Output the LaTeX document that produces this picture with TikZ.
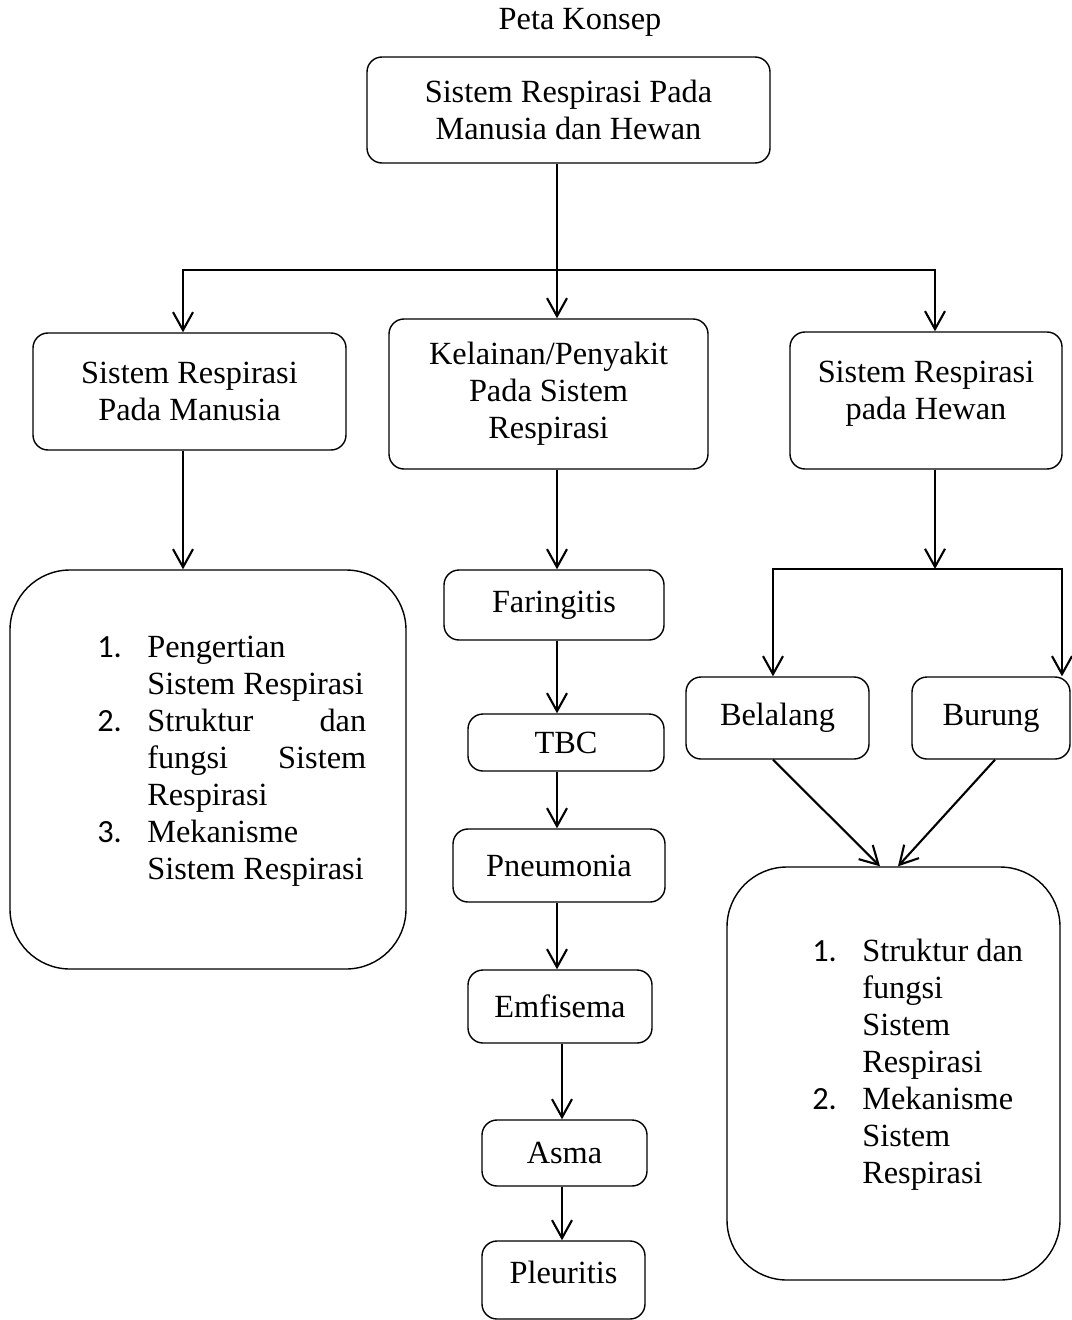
\documentclass[tikz,border=0pt]{standalone}
\usepackage{fontspec}
\setmainfont{Liberation Serif}
\newfontfamily\angka{Carlito}
\usetikzlibrary{arrows.meta}
\newlength{\px}\setlength{\px}{0.025cm}
\newcommand{\butir}[1]{\makebox[50\px][l]{\angka #1}}
\newcommand{\sisip}{\hspace*{50\px}}
\begin{document}
\begin{tikzpicture}[x=0.025cm,y=-0.025cm,
  every node/.style={font=\fontsize{23}{26.3}\selectfont},
  kotak/.style 2 args={draw, rounded corners=15\px, line width=1pt, align=center, inner sep=0pt, minimum width=#1\px, minimum height=#2\px},
  wadah/.style 2 args={draw, rounded corners=60\px, line width=1pt, inner sep=0pt, minimum width=#1\px, minimum height=#2\px},
  panah/.style={line width=1.5pt, -{Straight Barb[length=0.45cm,width=0.5cm]}},
  garis/.style={line width=1.5pt, line cap=rect}]
	\useasboundingbox (0,0) rectangle (1071,1320);
	% judul dan kotak utama
	\node (judul) at (580,22) {Peta Konsep};
	\node[kotak={403}{106}] (utama) at (568.5,110) {Sistem Respirasi Pada\\ Manusia dan Hewan};
	% tingkat kedua
	\node[kotak={313}{117}] (manusia) at (189.5,391.5) {Sistem Respirasi\\ Pada Manusia};
	\node[kotak={319}{150}] (kelainan) at (548.5,394) {Kelainan/Penyakit\\ Pada Sistem\\ Respirasi};
	\node[kotak={272}{137}, text depth=21\px] (hewan) at (926,400.5) {Sistem Respirasi\\ pada Hewan};
	% materi manusia
	\node[wadah={396}{399}] (materiA) at (208,769.5) {};
	\node[align=left, anchor=west, inner sep=0pt] (isiA) at (97,761) {%
		\butir{1.}Pengertian\\
		\sisip Sistem Respirasi\\
		\butir{2.}\hbox to 219\px{Struktur\hfill dan}\\
		\sisip\hbox to 219\px{fungsi\hfill Sistem}\\
		\sisip Respirasi\\
		\butir{3.}Mekanisme\\
		\sisip Sistem Respirasi};
	% penyakit
	\node[kotak={220}{70}] (faringitis) at (554,605) {Faringitis};
	\node[kotak={196}{57}] (tbc) at (566,742.5) {TBC};
	\node[kotak={212}{73}] (pneumonia) at (559,865.5) {Pneumonia};
	\node[kotak={184}{73}] (emfisema) at (560,1006.5) {Emfisema};
	\node[kotak={165}{66}] (asma) at (564.5,1153) {Asma};
	\node[kotak={163}{78}, text depth=16\px] (pleuritis) at (563.5,1280) {Pleuritis};
	% hewan
	\node[kotak={183}{82}] (belalang) at (777.5,718) {Belalang};
	\node[kotak={158}{82}] (burung) at (991,718) {Burung};
	\node[wadah={333}{413}] (materiB) at (893.5,1073.5) {};
	\node[align=left, anchor=west, inner sep=0pt] (isiB) at (812,1065) {%
		\butir{1.}Struktur dan\\
		\sisip fungsi\\
		\sisip Sistem\\
		\sisip Respirasi\\
		\butir{2.}Mekanisme\\
		\sisip Sistem\\
		\sisip Respirasi};
	% percabangan atas
	\coordinate (cabang) at (557,270);
	\coordinate (kiri) at (183,270);
	\coordinate (kanan) at (935,270);
	\draw[panah] (utama.south -| cabang) -- (kelainan.north -| cabang);
	\draw[garis] (kiri) -- (kanan);
	\draw[panah] (kiri) -- (manusia.north -| kiri);
	\draw[panah] (kanan) -- (hewan.north -| kanan);
	\draw[panah] (manusia.south -| kiri) -- (materiA.north -| kiri);
	% rantai penyakit
	\coordinate (jalur) at (562,0);
	\draw[panah] (kelainan.south -| cabang) -- (faringitis.north -| cabang);
	\draw[panah] (faringitis.south -| cabang) -- (tbc.north -| cabang);
	\draw[panah] (tbc.south -| cabang) -- (pneumonia.north -| cabang);
	\draw[panah] (pneumonia.south -| cabang) -- (emfisema.north -| cabang);
	\draw[panah] (emfisema.south -| jalur) -- (asma.north -| jalur);
	\draw[panah] (asma.south -| jalur) -- (pleuritis.north -| jalur);
	% percabangan hewan
	\coordinate (cabangB) at (935,569);
	\coordinate (kiriB) at (773,569);
	\coordinate (kananB) at (1062,569);
	\draw[panah] (hewan.south -| cabangB) -- (cabangB);
	\draw[garis] (kiriB) -- (kananB);
	\draw[panah] (kiriB) -- (belalang.north -| kiriB);
	\draw[panah] (kananB) -- (burung.north -| kananB);
	\draw[panah] (belalang.south -| kiriB) -- ([xshift=-13.5\px]materiB.north);
	\draw[panah] ([xshift=4\px]burung.south) -- ([xshift=4.5\px]materiB.north);
\end{tikzpicture}
\end{document}
